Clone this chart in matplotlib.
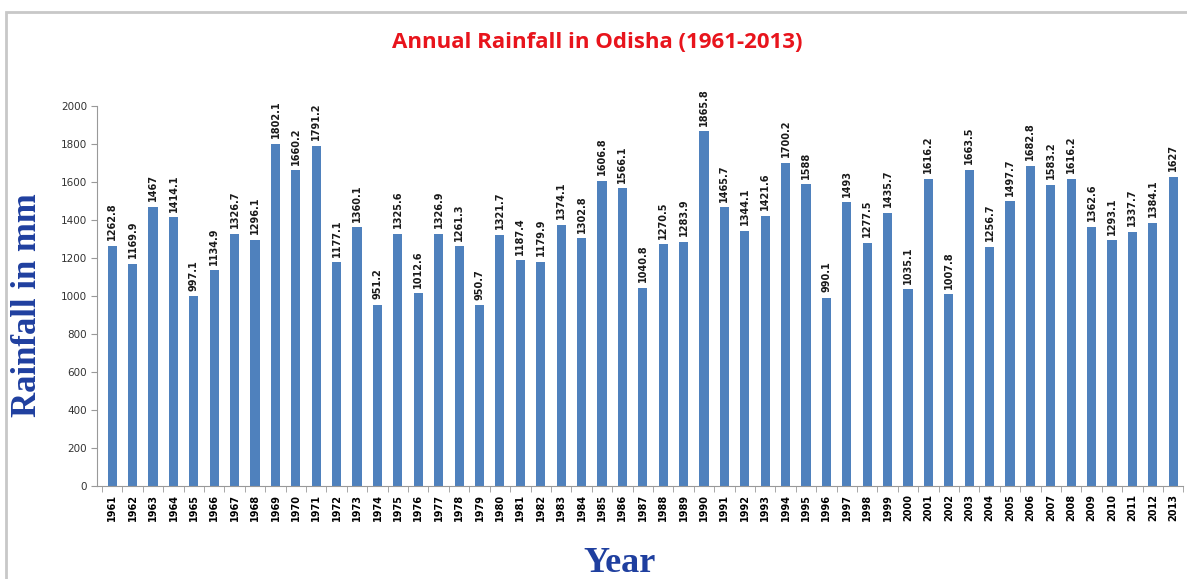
import matplotlib
matplotlib.use("Agg")
import matplotlib.pyplot as plt
from matplotlib.patches import Rectangle

years = list(range(1961, 2014))
rainfall = [1262.8, 1169.9, 1467, 1414.1, 997.1, 1134.9, 1326.7, 1296.1, 1802.1, 1660.2,
            1791.2, 1177.1, 1360.1, 951.2, 1325.6, 1012.6, 1326.9, 1261.3, 950.7, 1321.7,
            1187.4, 1179.9, 1374.1, 1302.8, 1606.8, 1566.1, 1040.8, 1270.5, 1283.9, 1865.8,
            1465.7, 1344.1, 1421.6, 1700.2, 1588, 990.1, 1493, 1277.5, 1435.7, 1035.1,
            1616.2, 1007.8, 1663.5, 1256.7, 1497.7, 1682.8, 1583.2, 1616.2, 1362.6, 1293.1,
            1337.7, 1384.1, 1627]
value_labels = [f"{v:g}" for v in rainfall]

fig = plt.figure(figsize=(11.87, 5.79), dpi=100)
# outer grey frame
fig.patches.append(Rectangle((0.005, -0.01), 1.0, 0.99, transform=fig.transFigure,
                             fill=False, edgecolor='#c8c8c8', linewidth=2))

ax = fig.add_axes([0.082, 0.161, 0.915, 0.656])
x = range(len(years))
bars = ax.bar(x, rainfall, width=0.45, color='#4f81bd')

for i, (v, lab) in enumerate(zip(rainfall, value_labels)):
    ax.text(i, v + 30, lab, rotation=90, ha='center', va='bottom',
            fontsize=7, fontweight='bold', color='#1a1a1a')

ax.set_xlim(-0.73, len(years) - 0.73)
ax.set_ylim(0, 2000)
ax.set_yticks(range(0, 2001, 200))
ax.tick_params(axis='y', labelsize=7.5, colors='#333333', length=4, color='#999999')
ax.set_xticks(x)
ax.set_xticklabels([str(y) for y in years], rotation=90, fontsize=7, fontweight='bold')
ax.tick_params(axis='x', length=0, pad=6)
ax.set_xticks([i + 0.5 for i in range(-1, len(years))], minor=True)
ax.tick_params(axis='x', which='minor', length=4, color='#999999')

for s in ['top', 'right']:
    ax.spines[s].set_visible(False)
ax.spines['left'].set_color('#999999')
ax.spines['bottom'].set_color('#999999')

fig.text(0.503, 0.927, 'Annual Rainfall in Odisha (1961-2013)', ha='center', va='center',
         color='#e8141c', fontsize=16, fontweight='bold', family='Open Sans')
fig.text(0.023, 0.473, 'Rainfall in mm', rotation=90, ha='center', va='center',
         color='#1f3f9f', fontsize=25, fontweight='bold', family='Liberation Serif')
fig.text(0.522, 0.027, 'Year', ha='center', va='center',
         color='#1f3f9f', fontsize=26, fontweight='bold', family='Liberation Serif')

fig.savefig('out.png', dpi=100)
